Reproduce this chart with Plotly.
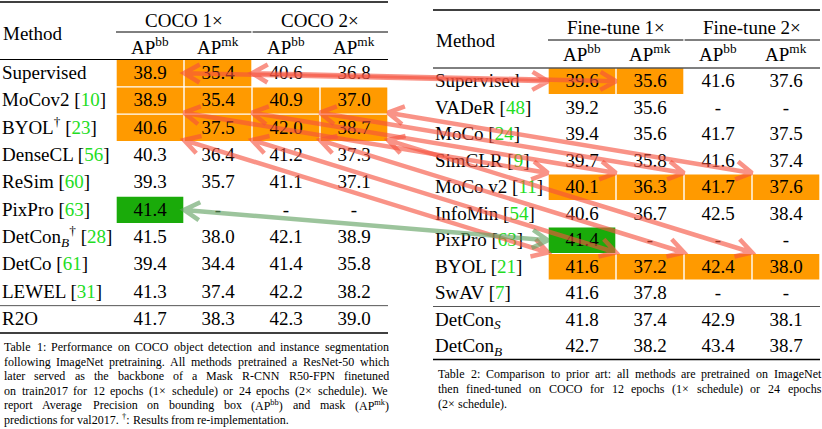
import math
import plotly.graph_objects as go

# ---------------- data ----------------
left_methods = ["Supervised", "MoCov2", "BYOL<sup>†</sup>", "DenseCL", "ReSim", "PixPro",
                "DetCon<sub><i>B</i></sub><sup>†</sup>", "DetCo", "LEWEL", "R2O"]
left_refs = ["", "10", "23", "56", "60", "63", "28", "61", "31", ""]
left_bb_1x = [38.9, 38.9, 40.6, 40.3, 39.3, 41.4, 41.5, 39.4, 41.3, 41.7]
left_mk_1x = [35.4, 35.4, 37.5, 36.4, 35.7, None, 38.0, 34.4, 37.4, 38.3]
left_bb_2x = [40.6, 40.9, 42.0, 41.2, 41.1, None, 42.1, 41.4, 42.2, 42.3]
left_mk_2x = [36.8, 37.0, 38.7, 37.3, 37.1, None, 38.9, 35.8, 38.2, 39.0]
left_split = 9

right_methods = ["Supervised", "VADeR", "MoCo", "SimCLR", "MoCo v2", "InfoMin", "PixPro",
                 "BYOL", "SwAV", "DetCon<sub><i>S</i></sub>", "DetCon<sub><i>B</i></sub>"]
right_refs = ["", "48", "24", "9", "11", "54", "63", "21", "7", "", ""]
right_bb_1x = [39.6, 39.2, 39.4, 39.7, 40.1, 40.6, 41.4, 41.6, 41.6, 41.8, 42.7]
right_mk_1x = [35.6, 35.6, 35.6, 35.8, 36.3, 36.7, None, 37.2, 37.8, 37.4, 38.2]
right_bb_2x = [41.6, None, 41.7, 41.6, 41.7, 42.5, None, 42.4, None, 42.9, 43.4]
right_mk_2x = [37.6, None, 37.5, 37.4, 37.6, 38.4, None, 38.0, None, 38.1, 38.7]
right_split = 9

left_groups = ["COCO 1×", "COCO 2×"]
right_groups = ["Fine-tune 1×", "Fine-tune 2×"]
metric_labels = ["AP<sup>bb</sup>", "AP<sup>mk</sup>", "AP<sup>bb</sup>", "AP<sup>mk</sup>"]

# highlighted cells (row, col)
left_orange = [(0, 0), (0, 1), (1, 0), (1, 1), (1, 2), (1, 3), (2, 0), (2, 1), (2, 2), (2, 3)]
left_green = [(5, 0)]
right_orange = [(0, 0), (0, 1), (4, 0), (4, 1), (4, 2), (4, 3), (7, 0), (7, 1), (7, 2), (7, 3)]
right_green = [(6, 0)]

# links between tables: (left row, right row, column, colour kind)
links = [(0, 0, 0, "red"), (0, 0, 1, "red"),
         (1, 4, 0, "red"), (1, 4, 1, "red"), (1, 4, 2, "red"), (1, 4, 3, "red"),
         (2, 7, 0, "red"), (2, 7, 1, "red"), (2, 7, 2, "red"), (2, 7, 3, "red"),
         (5, 6, 0, "green")]

left_caption = [
    "Table 1: Performance on COCO object detection and instance segmentation",
    "following ImageNet pretraining. All methods pretrained a ResNet-50 which",
    "later served as the backbone of a Mask R-CNN R50-FPN finetuned",
    "on train2017 for 12 epochs (1× schedule) or 24 epochs (2× schedule). We",
    "report Average Precision on bounding box (AP<sup>bb</sup>) and mask (AP<sup>mk</sup>)",
    "predictions for val2017. <sup>†</sup>: Results from re-implementation.",
]
right_caption = [
    "Table 2: Comparison to prior art: all methods are pretrained on ImageNet",
    "then fined-tuned on COCO for 12 epochs (1× schedule) or 24 epochs",
    "(2× schedule).",
]

# ---------------- style / layout ----------------
FONT = "Liberation Serif, Times New Roman, serif"
FS = 19
CAP_FS = 12
REF_GREEN = "#22dd22"
ORANGE = "#ff9a00"
GREEN_CELL = "#1aab0a"
ARROW_COL = {"red": "rgba(245,80,62,0.62)", "green": "rgba(95,160,95,0.62)"}
W, H = 822, 429

LEFT = dict(x0=0, method_w=116, col_w=68, top_rule=2, group_y=20, cmid_y=32,
            metric_y=46, body_top=59.5, row_h=27.35, method_x=2,
            cap_left=3, cap_right=388, cap_top=347, cap_dy=14.5)
RIGHT = dict(x0=433, method_w=115, col_w=68, top_rule=10, group_y=27, cmid_y=40,
             metric_y=53, body_top=68, row_h=26.5, method_x=435,
             cap_left=437, cap_right=820, cap_top=373.5, cap_dy=15.3)


def col_left(T, c):
    return T["x0"] + T["method_w"] + c * T["col_w"]


def col_center(T, c):
    return col_left(T, c) + T["col_w"] / 2


def row_top(T, r):
    return T["body_top"] + r * T["row_h"]


def row_center(T, r):
    return row_top(T, r) + T["row_h"] / 2


traces, shapes, annotations = [], [], []


def hline(x0, x1, y, width=1.0, color="black"):
    shapes.append(dict(type="line", xref="x", yref="y", x0=x0, x1=x1, y0=y, y1=y,
                       line=dict(color=color, width=width), layer="above"))


def cell_rect(T, r, c, color):
    shapes.append(dict(type="rect", xref="x", yref="y",
                       x0=col_left(T, c) + 0.7, x1=col_left(T, c + 1) - 0.7,
                       y0=row_top(T, r) + 0.6, y1=row_top(T, r + 1) - 0.6,
                       fillcolor=color, line=dict(width=0), layer="below"))


def fmt(v):
    return "-" if v is None else f"{v:.1f}"


def build_table(T, methods, refs, columns, groups, orange, green, split):
    n = len(methods)
    xl, xr = T["x0"], col_left(T, 4)
    # rules
    hline(xl, xr, T["top_rule"], 1.7)
    for g in range(2):
        hline(col_left(T, 2 * g) + (0.6 if g else 0), col_left(T, 2 * g + 2) - (0.6 if g == 0 else 0),
              T["cmid_y"], 1.0)
    hline(xl, xr, T["body_top"], 1.0)
    hline(xl, xr, row_top(T, split), 1.0, "#555555")
    hline(xl, xr, row_top(T, n), 1.7)
    # highlights
    for r, c in orange:
        cell_rect(T, r, c, ORANGE)
    for r, c in green:
        cell_rect(T, r, c, GREEN_CELL)
    # headers
    font = dict(family=FONT, size=FS, color="black")
    annotations.append(dict(x=T["method_x"], y=(T["group_y"] + T["metric_y"]) / 2, text="Method",
                            xref="x", yref="y", xanchor="left", yanchor="middle",
                            showarrow=False, font=font, borderpad=0))
    for g, label in enumerate(groups):
        xc = (col_center(T, 2 * g) + col_center(T, 2 * g + 1)) / 2
        annotations.append(dict(x=xc, y=T["group_y"], text=label, xref="x", yref="y",
                                xanchor="center", yanchor="middle", showarrow=False,
                                font=font, borderpad=0))
    for c, label in enumerate(metric_labels):
        annotations.append(dict(x=col_center(T, c), y=T["metric_y"], text=label, xref="x", yref="y",
                                xanchor="center", yanchor="middle", showarrow=False,
                                font=font, borderpad=0))
    # method names
    names = [m + (f" [<span style='color:{REF_GREEN}'>{rf}</span>]" if rf else "")
             for m, rf in zip(methods, refs)]
    traces.append(go.Scatter(x=[T["method_x"]] * n, y=[row_center(T, r) + 1 for r in range(n)],
                             mode="text", text=names, textposition="middle right",
                             textfont=font, hoverinfo="skip", cliponaxis=False))
    # values
    xs, ys, ts = [], [], []
    for c, col in enumerate(columns):
        for r, v in enumerate(col):
            xs.append(col_center(T, c))
            ys.append(row_center(T, r) + 1)
            ts.append(fmt(v))
    traces.append(go.Scatter(x=xs, y=ys, mode="text", text=ts, textposition="middle center",
                             textfont=font, hoverinfo="skip", cliponaxis=False))


build_table(LEFT, left_methods, left_refs, [left_bb_1x, left_mk_1x, left_bb_2x, left_mk_2x],
            left_groups, left_orange, left_green, left_split)
build_table(RIGHT, right_methods, right_refs, [right_bb_1x, right_mk_1x, right_bb_2x, right_mk_2x],
            right_groups, right_orange, right_green, right_split)

# ---------------- arrows ----------------


def chevron(tip, toward, length=18.0, ang=math.radians(30)):
    dx, dy = toward[0] - tip[0], toward[1] - tip[1]
    nrm = math.hypot(dx, dy)
    ux, uy = dx / nrm, dy / nrm
    out = []
    for s in (1, -1):
        ca, sa = math.cos(s * ang), math.sin(s * ang)
        rx, ry = ux * ca - uy * sa, ux * sa + uy * ca
        out.append((tip[0] + rx * length, tip[1] + ry * length))
    return out


for lr, rr, c, kind in links:
    yl_c, yr_c = row_center(LEFT, lr), row_center(RIGHT, rr)
    if abs(yr_c - yl_c) > 2 * LEFT["row_h"]:
        p0 = (col_left(LEFT, c + 1), row_top(LEFT, lr + 1) - 1.5)
        p1 = (col_left(RIGHT, c), row_top(RIGHT, rr) - 1.0)
    else:
        p0 = (col_left(LEFT, c + 1), yl_c)
        p1 = (col_left(RIGHT, c), yr_c)
    a0, b0 = chevron(p0, p1)
    a1, b1 = chevron(p1, p0)
    pts = [a0, p0, b0, p0, p1, a1, p1, b1]
    traces.append(go.Scatter(x=[p[0] for p in pts], y=[p[1] for p in pts], mode="lines",
                             line=dict(color=ARROW_COL[kind], width=4.5), hoverinfo="skip",
                             cliponaxis=False))

# ---------------- captions (justified) ----------------
CW = {' ': 250, 'a': 444, 'b': 500, 'c': 444, 'd': 500, 'e': 444, 'f': 333, 'g': 500, 'h': 500,
      'i': 278, 'j': 278, 'k': 500, 'l': 278, 'm': 778, 'n': 500, 'o': 500, 'p': 500, 'q': 500,
      'r': 333, 's': 389, 't': 278, 'u': 500, 'v': 500, 'w': 722, 'x': 500, 'y': 500, 'z': 444,
      'A': 722, 'B': 667, 'C': 667, 'D': 722, 'E': 611, 'F': 556, 'G': 722, 'H': 722, 'I': 333,
      'J': 389, 'K': 722, 'L': 611, 'M': 889, 'N': 722, 'O': 722, 'P': 556, 'Q': 722, 'R': 667,
      'S': 556, 'T': 611, 'U': 722, 'V': 722, 'W': 944, 'X': 722, 'Y': 722, 'Z': 611,
      '.': 250, ',': 250, ':': 278, ';': 278, '(': 333, ')': 333, '-': 333, '×': 564, '†': 500,
      '[': 333, ']': 333}


def text_w(s, size):
    w, scale, i = 0.0, 1.0, 0
    while i < len(s):
        if s.startswith("<sup>", i):
            scale, i = 0.7, i + 5
            continue
        if s.startswith("</sup>", i):
            scale, i = 1.0, i + 6
            continue
        w += CW.get(s[i], 500) * scale
        i += 1
    return w / 1000.0 * size


def caption(T, lines):
    cfont = dict(family=FONT, size=CAP_FS, color="black")
    for k, line in enumerate(lines):
        words = line.split(" ")
        widths = [text_w(w, CAP_FS) for w in words]
        y = T["cap_top"] + k * T["cap_dy"]
        if k == len(lines) - 1 or len(words) == 1:
            gap = 0.25 * CAP_FS
        else:
            gap = (T["cap_right"] - T["cap_left"] - sum(widths)) / (len(words) - 1)
        x = T["cap_left"]
        for w, ww in zip(words, widths):
            annotations.append(dict(x=x, y=y, text=w, xref="x", yref="y", xanchor="left",
                                    yanchor="middle", showarrow=False, font=cfont, borderpad=0))
            x += ww + gap


caption(LEFT, left_caption)
caption(RIGHT, right_caption)

fig = go.Figure(traces)
fig.update_layout(
    width=W, height=H, autosize=False,
    margin=dict(l=0, r=0, t=0, b=0, pad=0),
    paper_bgcolor="white", plot_bgcolor="white", showlegend=False,
    xaxis=dict(range=[0, W], visible=False, fixedrange=True),
    yaxis=dict(range=[H, 0], visible=False, fixedrange=True),
    shapes=shapes, annotations=annotations,
)
fig.write_html("out.html", config={"displayModeBar": False},
               post_script="document.body.style.margin='0';document.body.style.overflow='hidden';")
